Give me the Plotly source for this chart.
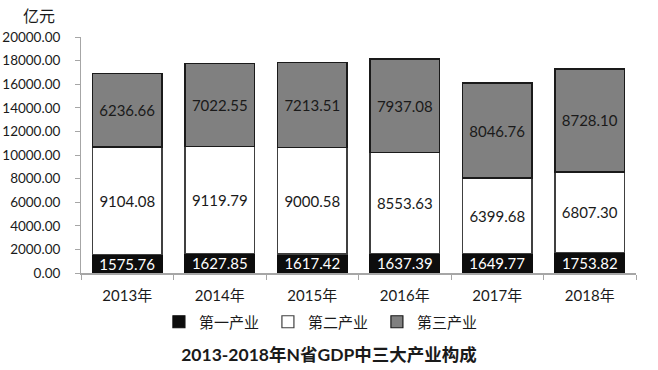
import plotly.graph_objects as go

years = ["2013年", "2014年", "2015年", "2016年", "2017年", "2018年"]
primary = [1575.76, 1627.85, 1617.42, 1637.39, 1649.77, 1753.82]
secondary = [9104.08, 9119.79, 9000.58, 8553.63, 6399.68, 6807.30]
tertiary = [6236.66, 7022.55, 7213.51, 7937.08, 8046.76, 8728.10]
names = ["第一产业", "第二产业", "第三产业"]
ytick_vals = [0, 2000, 4000, 6000, 8000, 10000, 12000, 14000, 16000, 18000, 20000]

FONT = "Lato, Noto Sans CJK SC, sans-serif"

fig = go.Figure()
series = [
    (primary, "#0d0d0d", "#ffffff", "#0d0d0d"),
    (secondary, "#ffffff", "#1a1a1a", "#404040"),
    (tertiary, "#808080", "#1a1a1a", "#1a1a1a"),
]
for (vals, fill, tcol, lcol), nm in zip(series, names):
    fig.add_trace(go.Bar(
        x=years, y=vals, name=nm,
        marker=dict(color=fill, line=dict(color=lcol, width=1.2)),
        texttemplate="%{y:.2f}", textposition="inside",
        insidetextanchor="middle",
        textfont=dict(color=tcol, size=15, family=FONT),
        hoverinfo="skip",
    ))

fig.update_layout(
    width=658, height=370,
    barmode="stack", bargap=0.25,
    plot_bgcolor="white", paper_bgcolor="white",
    margin=dict(l=81, r=22, t=37, b=97),
    font=dict(family=FONT, size=14, color="#1a1a1a"),
    uniformtext=dict(minsize=13, mode="show"),
    legend=dict(orientation="h", traceorder="normal",
                xref="container", x=0.49, xanchor="center",
                yref="container", y=(370 - 322) / 370, yanchor="middle",
                font=dict(size=15), entrywidth=64, entrywidthmode="pixels",
                itemwidth=30, tracegroupgap=0),
    title=dict(text="<b>2013-2018年N省GDP中三大产业构成</b>",
               xref="container", yref="container", x=0.5, xanchor="center",
               y=(370 - 355) / 370, yanchor="middle",
               font=dict(size=17.5, color="#1a1a1a", family=FONT)),
    annotations=[dict(text="亿元", xref="paper", yref="paper",
                      x=-0.075, xanchor="center", y=(273 - 15) / 236,
                      yanchor="middle", showarrow=False,
                      font=dict(size=16, color="#1a1a1a"))],
)
fig.update_yaxes(range=[0, 20000], tickvals=ytick_vals, tickformat=".2f",
                 showgrid=False, zeroline=False, showline=True,
                 linecolor="#a6a6a6", linewidth=1, ticks="outside",
                 ticklen=5, tickcolor="#a6a6a6", tickfont=dict(size=13.5),
                 ticklabelstandoff=12, automargin=False)
fig.update_xaxes(showgrid=False, showline=True, linecolor="#a6a6a6",
                 linewidth=1.5, ticks="outside", tickson="boundaries",
                 ticklen=5, tickcolor="#a6a6a6", tickfont=dict(size=15),
                 ticklabelstandoff=8, automargin=False)

fig.write_html("out.html", config={"displayModeBar": False},
               post_script="document.body.style.margin='0';document.body.style.padding='0';")
